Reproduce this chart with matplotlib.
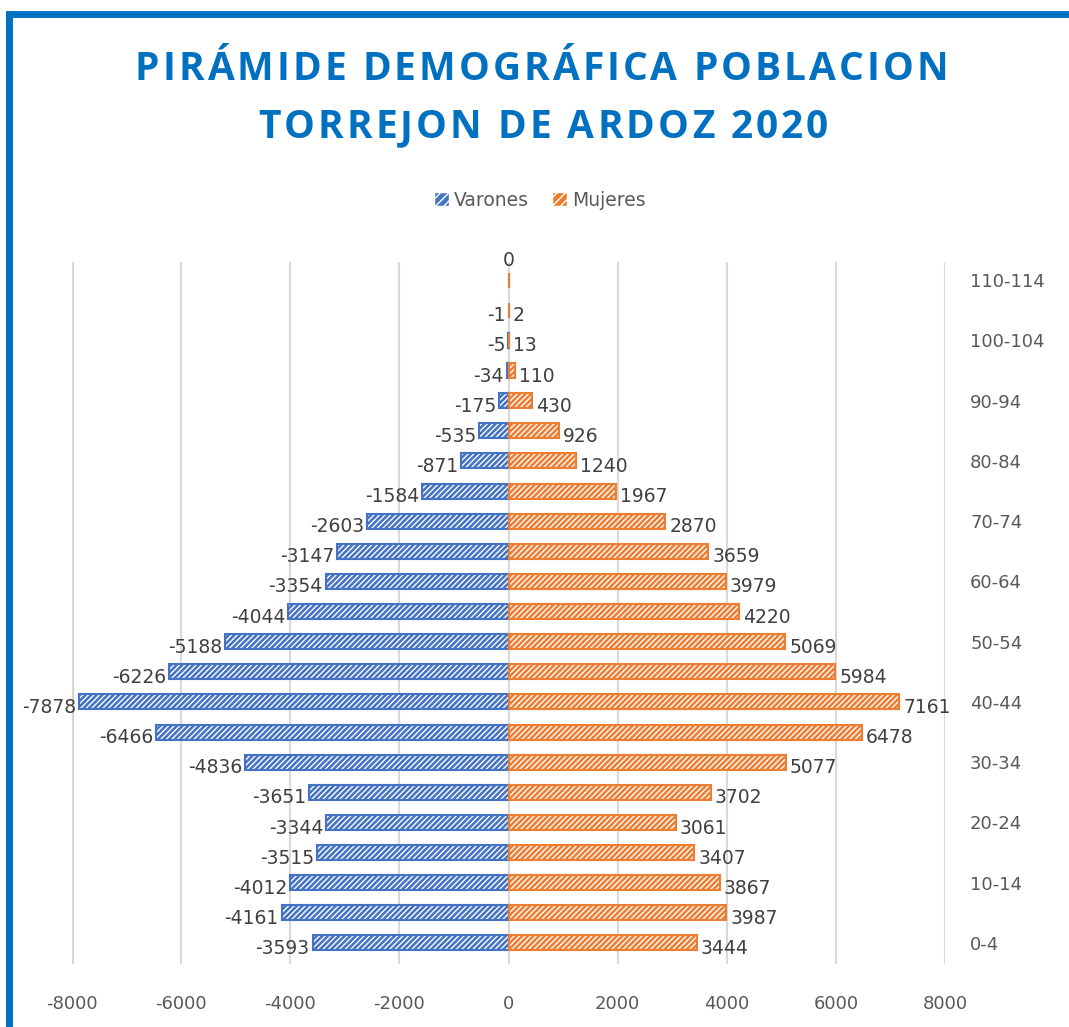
import matplotlib.pyplot as plt
import matplotlib.patches as mpatches
import numpy as np

# age groups, bottom to top
grupos = ['0-4', '5-9', '10-14', '15-19', '20-24', '25-29', '30-34', '35-39',
          '40-44', '45-49', '50-54', '55-59', '60-64', '65-69', '70-74', '75-79',
          '80-84', '85-89', '90-94', '95-99', '100-104', '105-109', '110-114']
varones = [-3593, -4161, -4012, -3515, -3344, -3651, -4836, -6466, -7878, -6226,
           -5188, -4044, -3354, -3147, -2603, -1584, -871, -535, -175, -34, -5, -1, 0]
mujeres = [3444, 3987, 3867, 3407, 3061, 3702, 5077, 6478, 7161, 5984,
           5069, 4220, 3979, 3659, 2870, 1967, 1240, 926, 430, 110, 13, 2, 0]
xticks = [-8000, -6000, -4000, -2000, 0, 2000, 4000, 6000, 8000]
titulo = ['PIRÁMIDE DEMOGRÁFICA POBLACION', 'TORREJON DE ARDOZ 2020']

azul = '#4472C4'
naranja = '#ED7D31'
gris = '#595959'

W, H = 1069, 1027
fig = plt.figure(figsize=(W / 100, H / 100), dpi=100)
renderer = fig.canvas.get_renderer()

# blue frame around the chart
fig.patches.append(mpatches.Rectangle((0.008, -0.05), 1.05, 1.036, transform=fig.transFigure,
                                      fill=False, edgecolor='#0070C0', linewidth=5))

ax = fig.add_axes([0.0674, 0.0613, 0.8167, 0.6835])
y = np.arange(len(grupos))
h = 0.5

for vals, col in [(varones, azul), (mujeres, naranja)]:
    ax.barh(y, vals, height=h, color=col, edgecolor='white', hatch='//////', linewidth=0, zorder=3)
    ax.barh(y, vals, height=h, fill=False, edgecolor=col, linewidth=1.5, zorder=4)

# data labels
for i in range(len(grupos) - 1):
    ax.annotate(str(varones[i]), (varones[i], y[i]), xytext=(-2, -4), textcoords='offset points',
                ha='right', va='center', fontsize=13.5, color='#404040', zorder=5)
    ax.annotate(str(mujeres[i]), (mujeres[i], y[i]), xytext=(3, -4), textcoords='offset points',
                ha='left', va='center', fontsize=13.5, color='#404040', zorder=5)
ax.annotate('0', (0, y[-1]), xytext=(0, 14), textcoords='offset points',
            ha='center', va='center', fontsize=13.5, color='#404040', zorder=5)

ax.set_xlim(-8000, 8000)
ax.set_ylim(-0.7, 22.6)
ax.set_xticks(xticks)
ax.set_xticklabels([str(t) for t in xticks], fontsize=13, color=gris)
ax.tick_params(axis='x', length=0, pad=22)
ax.set_yticks(y[::2])
ax.set_yticklabels(grupos[::2], fontsize=13, color=gris)
ax.yaxis.tick_right()
ax.tick_params(axis='y', length=0, pad=18)
ax.grid(axis='x', color='#D9D9D9', linewidth=1.5, zorder=0)
for s in ax.spines.values():
    s.set_visible(False)
ax.axvline(-8000, color='#D0D0D0', linewidth=3, zorder=1)


def texto_espaciado(linea, x_ini, x_fin, y_px, size):
    # place letters one by one so the line has wide letter spacing
    arts, anchos = [], []
    for c in linea:
        t = fig.text(0, y_px / H, c, ha='left', va='center', fontsize=size,
                     fontweight='bold', color='#0070C0', family='Open Sans')
        anchos.append(t.get_window_extent(renderer).width if c != ' ' else size * 0.35)
        arts.append(t)
    extra = ((x_fin - x_ini) - sum(anchos)) / (len(linea) - 1)
    x = x_ini
    for t, w in zip(arts, anchos):
        t.set_x(x / W)
        x += w + extra


texto_espaciado(titulo[0], 135, 948, H - 70, 28)
texto_espaciado(titulo[1], 258, 828, H - 128, 28)

handles = [mpatches.Patch(facecolor=azul, edgecolor='white', hatch='////', label='Varones'),
           mpatches.Patch(facecolor=naranja, edgecolor='white', hatch='////', label='Mujeres')]
fig.legend(handles=handles, loc='center', bbox_to_anchor=(0.505, 0.805), ncol=2, frameon=False,
           fontsize=13.5, labelcolor=gris, handlelength=0.8, handleheight=0.8,
           handletextpad=0.3, columnspacing=1.2)

plt.savefig('out.png', dpi=100)
